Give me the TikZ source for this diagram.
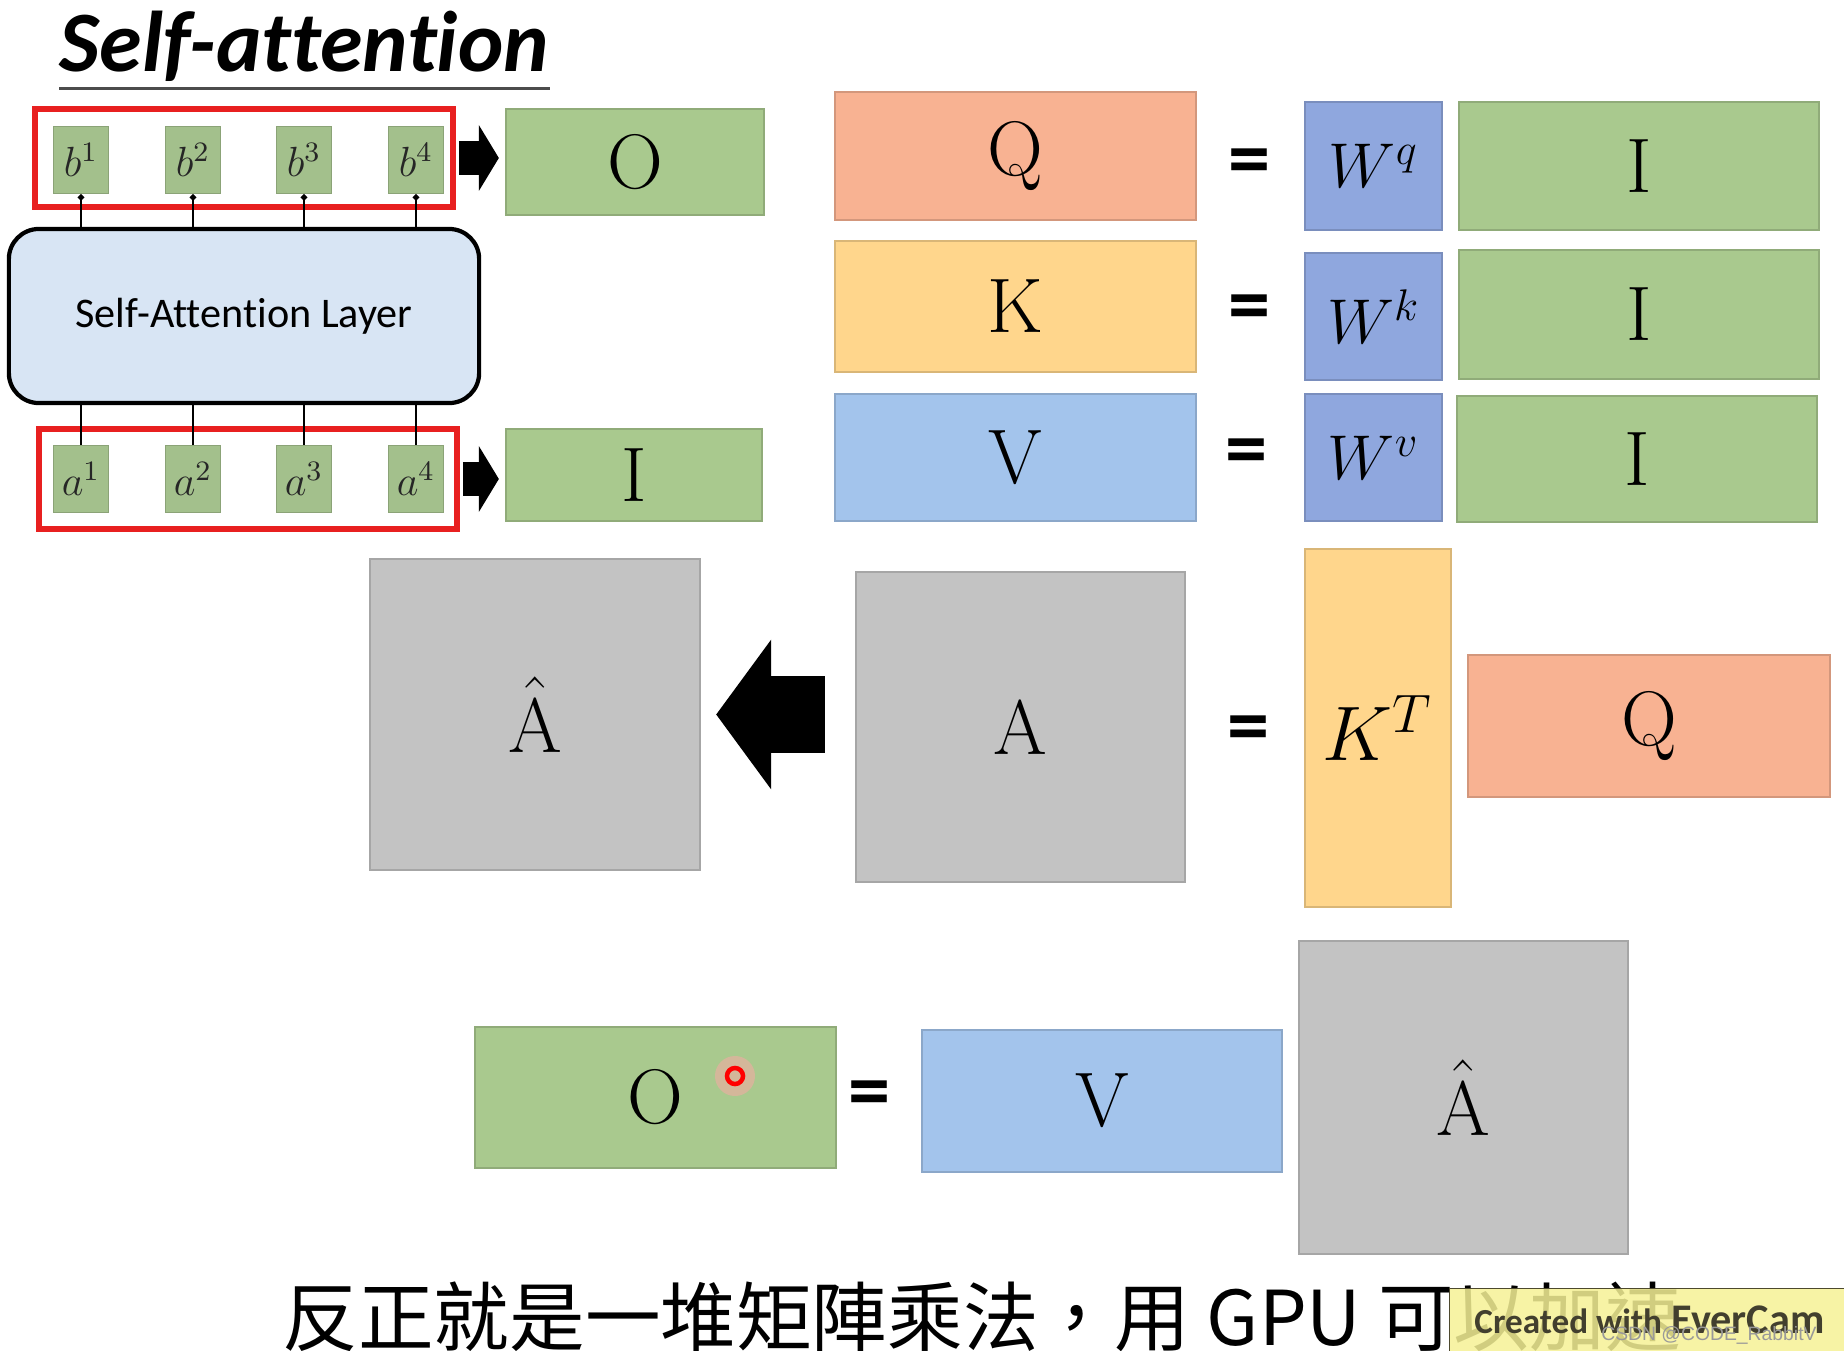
\RequirePackage{fix-cm}
\documentclass[tikz,border=0pt]{standalone}
\usepackage{amsmath}
\usepackage{fontspec}
\newfontfamily\calibri[Ligatures=NoCommon]{Carlito}
\newfontfamily\cjk{Noto Sans CJK TC}
\newfontfamily\arialfont{Liberation Sans}
\usetikzlibrary{arrows.meta}
\pgfdeclarelayer{background}
\pgfdeclarelayer{foreground}
\pgfsetlayers{background,main,foreground}

\definecolor{matgreen}{RGB}{169,201,142}
\definecolor{cellgreen}{RGB}{163,192,140}
\definecolor{qsalmon}{RGB}{248,178,146}
\definecolor{kyellow}{RGB}{255,214,140}
\definecolor{vblue}{RGB}{163,196,236}
\definecolor{wblue}{RGB}{143,167,222}
\definecolor{matgray}{RGB}{195,195,195}
\definecolor{layerblue}{RGB}{216,229,244}
\definecolor{framered}{RGB}{232,32,32}
\definecolor{camyellow}{RGB}{246,242,150}

\tikzset{
  mat/.style={draw=#1!85!black, fill=#1, line width=0.6pt, inner sep=0pt,
    font=\fontsize{22}{26}\selectfont},
  wmat/.style={mat=wblue, font=\fontsize{18}{22}\selectfont},
  cell/.style={draw=cellgreen!85!black, fill=cellgreen, line width=0.5pt, inner sep=0pt,
    minimum width=0.55cm, minimum height=0.67cm, text=black!85,
    font=\fontsize{12}{14}\selectfont},
  redframe/.style={draw=framered, line width=1.5pt, minimum width=4.18cm, inner sep=0pt},
  eqsign/.style={font=\calibri\bfseries\fontsize{24}{28}\selectfont, inner sep=0pt},
  wire/.style={line width=0.7pt},
  blockarrow/.style={line width=0.33cm, shorten <=0.03cm, shorten >=0.06cm,
    -{Triangle[length=0.2cm,width=0.65cm]}},
  bigarrow/.style={line width=0.77cm, shorten <=0.3cm, shorten >=0.15cm,
    -{Triangle[length=0.55cm,width=1.47cm]}},
}

\begin{document}
\begin{tikzpicture}[x=0.01cm, y=-0.01cm]
\fill[white] (0,0) rectangle (1844,1351);
\useasboundingbox (0,0) rectangle (1844,1351);

% title
\node[anchor=base west, inner sep=0pt, font=\calibri\bfseries\itshape\fontsize{24.5}{29}\selectfont] (title) at (59,71) {Self-attention};
\draw[line width=0.03cm, black!70] ([yshift=-0.17cm]title.base west) -- ([yshift=-0.17cm]title.base east);

% layer with inputs and outputs
\node[draw, line width=1.2pt, rounded corners=0.3cm, fill=layerblue, minimum width=4.7cm, minimum height=1.74cm, font=\calibri\fontsize{12}{14}\selectfont] (SA) at (244,316) {Self-Attention Layer};
\node[redframe, minimum height=0.98cm] (bset) at (244,158) {};
\node[redframe, minimum height=1.00cm] (aset) at (248,479) {};
\foreach \i/\x in {1/81,2/193,3/304,4/416} {
  \node[cell] (b\i) at (\x,160) {$b^{\i}$};
  \node[cell] (a\i) at (\x,479) {$a^{\i}$};
  \draw[wire] (a\i.north) -- (a\i.north |- SA.south);
  \draw[wire, -{Circle[length=0.06cm]}] (b\i.south |- SA.north) -- (b\i.south);
}
\node[mat=matgreen, minimum width=2.58cm, minimum height=1.06cm] (O1) at (635,162) {O};
\node[mat=matgreen, minimum width=2.56cm, minimum height=0.92cm] (I0) at (634,475) {I};
\draw[blockarrow] (bset.east) -- (bset.east -| O1.west);
\draw[blockarrow] (aset.east) -- (aset.east -| I0.west);

% Q, K, V
\node[mat=qsalmon, minimum width=3.61cm, minimum height=1.28cm] (Q1) at (1015.5,156) {Q};
\node[eqsign] (eq1) at (1250,168) {=};
\node[wmat, minimum width=1.37cm, minimum height=1.28cm] (Wq) at (1373.5,166) {$W^q$};
\node[mat=matgreen, minimum width=3.6cm, minimum height=1.28cm] (Iq) at (1639,166) {I};

\node[mat=kyellow, minimum width=3.61cm, minimum height=1.31cm] (K1) at (1015.5,306.5) {K};
\node[eqsign] (eq2) at (1250,314) {=};
\node[wmat, minimum width=1.37cm, minimum height=1.27cm] (Wk) at (1373.5,316.5) {$W^k$};
\node[mat=matgreen, minimum width=3.6cm, minimum height=1.29cm] (Ik) at (1639,314.5) {I};

\node[mat=vblue, minimum width=3.61cm, minimum height=1.27cm] (V1) at (1015.5,457.5) {V};
\node[eqsign] (eq3) at (1247,458) {=};
\node[wmat, minimum width=1.37cm, minimum height=1.27cm] (Wv) at (1373.5,457.5) {$W^v$};
\node[mat=matgreen, minimum width=3.6cm, minimum height=1.26cm] (Iv) at (1637,459) {I};

% attention matrix
\node[mat=matgray, minimum width=3.3cm, minimum height=3.11cm] (Ah1) at (535,714.5) {$\hat{\mathrm{A}}$};
\node[mat=matgray, minimum width=3.29cm, minimum height=3.1cm] (A1) at (1020.5,727) {A};
\draw[bigarrow] (Ah1.east -| A1.west) -- (Ah1.east);
\node[eqsign] (eq4) at (1249,735) {=};
\node[mat=kyellow, minimum width=1.46cm, minimum height=3.58cm] (KT) at (1378,728) {$K^T$};
\node[mat=qsalmon, minimum width=3.62cm, minimum height=1.42cm] (Q2) at (1649,726) {Q};

% output
\node[mat=matgreen, minimum width=3.61cm, minimum height=1.41cm] (O2) at (655.5,1097.5) {O};
\node[eqsign] (eq5) at (870,1100) {=};
\node[mat=vblue, minimum width=3.6cm, minimum height=1.42cm] (V2) at (1102,1101) {V};
\node[mat=matgray, minimum width=3.29cm, minimum height=3.13cm] (Ah2) at (1463.5,1097.5) {$\hat{\mathrm{A}}$};
\fill[red!35, opacity=0.5] (735,1076) circle (0.2cm);
\draw[red, line width=0.045cm] (735,1076) circle (0.08cm);

\node[anchor=west, inner sep=0pt, font=\cjk\fontsize{21.5}{26}\selectfont] (note) at (282,1317) {反正就是一堆矩陣乘法，用 GPU 可以加速};

\begin{pgfonlayer}{foreground}
\node[anchor=north west, fill=camyellow, fill opacity=0.85, draw=black!60!olive, minimum width=4.0cm, minimum height=0.7cm, inner sep=0pt] (cam) at (1449,1288) {};
\node[anchor=west, text=black!70!olive, font=\calibri\bfseries\fontsize{12}{14}\selectfont] (camtext) at (1462,1320) {{\fontsize{10}{12}\selectfont Created with} EverCam};
\node[anchor=east, text=black!40, font=\arialfont\fontsize{5.5}{6}\selectfont] (csdn) at (1829,1335) {CSDN @CODE\_RabbitV};
\end{pgfonlayer}
\end{tikzpicture}
\end{document}
